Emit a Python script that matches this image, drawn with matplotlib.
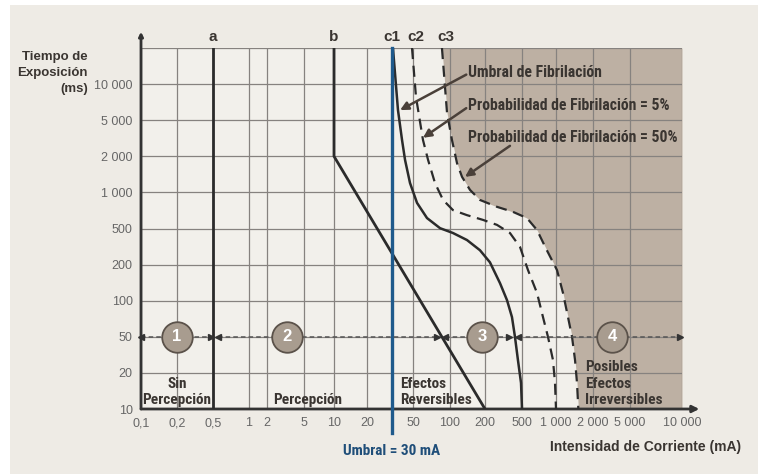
import numpy as np
import matplotlib.pyplot as plt
from matplotlib.patches import Rectangle

# axis ticks
x_ticks = [0.1, 0.2, 0.5, 1, 2, 5, 10, 20, 50, 100, 200, 500, 1000, 2000, 5000, 10000]
x_labels = ['0,1', '0,2', '0,5', '1', '2', '5', '10', '20', '50', '100', '200', '500',
            '1 000', '2 000', '5 000', '10 000']
y_ticks = [10, 20, 50, 100, 200, 500, 1000, 2000, 5000, 10000, 20000]
y_labels = ['10', '20', '50', '100', '200', '500', '1 000', '2 000', '5 000', '10 000', '']

# the chart is drawn on an irregular grid, not a true log scale
x_knots = [0.1, 0.2, 0.5, 1, 2, 5, 10, 20, 30, 50, 100, 200, 500, 1000, 2000, 5000, 10000]
x_knot_pos = [0, 36, 72, 108, 126, 163, 193, 226, 251, 272, 309, 344, 381, 415, 452, 489, 541]

# curves: current (mA) / time (ms)
a_i = [0.5, 0.5]
a_t = [10, 20000]
b_i = [10, 10, 200]
b_t = [20000, 2000, 10]
c1_i = [30.7, 34.7, 38.3, 41.2, 46.5, 53.9, 65.0, 83.0, 106, 140, 181, 226, 290, 345,
        390, 420, 452, 488, 500]
c1_t = [20000, 6070, 3020, 1866, 1197, 818, 611, 503, 446, 373, 288, 212, 140, 101,
        73, 50, 27.8, 16.5, 10]
c2_i = [48.8, 52.9, 60.3, 66.3, 75.5, 87.8, 106, 140, 192, 269, 371, 476, 565, 679,
        767, 849, 940, 980, 1000]
c2_t = [20000, 7790, 3020, 1866, 1197, 865, 712, 646, 590, 536, 446, 313, 180, 116,
        73, 50, 27.8, 16.5, 10]
c3_i = [86, 94.6, 104, 114.9, 126.9, 148.6, 181, 269, 400, 553, 679, 816, 1019, 1140,
        1252, 1350, 1428, 1482, 1520]
c3_t = [20000, 5743, 3020, 1753, 1347, 1049, 865, 758, 688, 611, 481, 300, 180, 116,
        73, 50, 27.8, 16.5, 10]
umbral = 30

# zones
zone_num = ['1', '2', '3', '4']
zone_center = [0.2, 3.3, 190, 3200]
zone_start = [0.1, 0.55, 91, 455]
zone_end = [0.47, 79, 365, 9700]
zone_time = 50

NARROW = ['Liberation Sans Narrow', 'Roboto Condensed', 'DejaVu Sans']
REG = ['Liberation Sans', 'DejaVu Sans']
DARK = '#3a3531'
BG = '#eeebe5'


def x_fwd(x):
    x = np.clip(np.asarray(x, dtype=float), 1e-9, None)
    return np.interp(np.log10(x), np.log10(x_knots), x_knot_pos)


def x_inv(p):
    return 10 ** np.interp(p, x_knot_pos, np.log10(x_knots))


def y_fwd(y):
    y = np.clip(np.asarray(y, dtype=float), 1e-9, None)
    return np.interp(np.log10(y), np.log10(y_ticks), np.arange(len(y_ticks)))


def y_inv(p):
    return 10 ** np.interp(p, np.arange(len(y_ticks)), np.log10(y_ticks))


def narrow_text(x, y, s, **kw):
    kw.setdefault('fontsize', 11)
    kw.setdefault('color', DARK)
    return ax.text(x, y, s, fontweight='bold', family=NARROW, fontstretch='condensed', **kw)


fig = plt.figure(figsize=(7.58, 4.74), dpi=100, facecolor='white')
fig.patches.append(Rectangle((10 / 758, 0), 1, 1 - 5 / 474, transform=fig.transFigure,
                             facecolor=BG, edgecolor='none', zorder=-10))

ax = fig.add_axes([141 / 758, 65 / 474, 541 / 758, 361 / 474])
ax.set_facecolor('#f2f0eb')
ax.set_xscale('function', functions=(x_fwd, x_inv))
ax.set_yscale('function', functions=(y_fwd, y_inv))
ax.set_xlim(0.1, 10000)
ax.set_ylim(10, 20000)

ax.set_xticks(x_ticks)
ax.set_xticklabels(x_labels)
ax.set_yticks(y_ticks)
ax.set_yticklabels(y_labels)
ax.minorticks_off()
ax.tick_params(length=0, labelsize=9, labelcolor='#666666', pad=6)
for lab in ax.get_xticklabels() + ax.get_yticklabels():
    lab.set_family(REG)
ax.set_axisbelow(True)
ax.grid(True, color='#86827f', lw=0.9)
for s in ax.spines.values():
    s.set_visible(False)

# shaded zone 4
ax.fill_betweenx(c3_t, c3_i, 10000, color='#bdb0a3', zorder=0.2, lw=0)

# axes with arrows
ax.annotate('', xy=(0, 1.045), xytext=(0, 0), xycoords='axes fraction',
            arrowprops=dict(arrowstyle='-|>', color='#333333', lw=2, mutation_scale=6,
                            shrinkA=0, shrinkB=0))
ax.annotate('', xy=(1.032, 0), xytext=(0, 0), xycoords='axes fraction',
            arrowprops=dict(arrowstyle='-|>', color='#333333', lw=2, mutation_scale=10,
                            shrinkA=0, shrinkB=0))

# curves
ax.plot(a_i, a_t, color='#2b2b2b', lw=2, zorder=3)
ax.plot(b_i, b_t, color='#2b2b2b', lw=2, zorder=3)
ax.plot(c1_i, c1_t, color='#2b2b2b', lw=1.8, zorder=3)
ax.plot(c2_i, c2_t, color='#2b2b2b', lw=1.6, dashes=(5, 3), zorder=3)
ax.plot(c3_i, c3_t, color='#2b2b2b', lw=1.6, dashes=(5, 3), zorder=3)

# 30 mA threshold
xt = ax.get_xaxis_transform()
ax.plot([umbral, umbral], [-0.067, 1.0], transform=xt, color='#1f5a8c', lw=2.4,
        zorder=4, clip_on=False)
narrow_text(umbral, -0.115, 'Umbral = 30 mA', transform=xt, ha='center', va='center',
            color='#1f4e79')

# curve letters
for lab, xv in zip(['a', 'b', 'c1', 'c2', 'c3'], [0.5, 10, 30, 53, 92]):
    ax.text(xv, 1.03, lab, transform=xt, ha='center', va='center', fontsize=11,
            fontweight='bold', color=DARK, family=REG)

# zone arrows and circles
for num, xc, x0, x1 in zip(zone_num, zone_center, zone_start, zone_end):
    ax.plot([x0, x1], [zone_time, zone_time], color='#555555', lw=1.1, dashes=(3, 2), zorder=4)
    ax.plot([x0], [zone_time], marker='<', ms=4, color='#333333', zorder=4, clip_on=False)
    ax.plot([x1], [zone_time], marker='>', ms=4, color='#333333', zorder=4, clip_on=False)
    ax.plot([xc], [zone_time], marker='o', ms=22, mfc='#a89c8f', mec='#5b524a', mew=1.3,
            zorder=5)
    ax.text(xc, zone_time, num, ha='center', va='center', fontsize=12, fontweight='bold',
            color='white', zorder=6, family=REG)

# zone texts
narrow_text(0.2, 0.006, 'Sin\nPercepción', transform=xt, ha='center', va='bottom',
            linespacing=1.2)
narrow_text(5.4, 0.006, 'Percepción', transform=xt, ha='center', va='bottom')
narrow_text(37, 0.006, 'Efectos\nReversibles', transform=xt, ha='left', va='bottom',
            linespacing=1.2)
narrow_text(1720, 0.006, 'Posibles\nEfectos\nIrreversibles', transform=xt, ha='left',
            va='bottom', linespacing=1.2)

# fibrillation annotations
notes = ['Umbral de Fibrilación', 'Probabilidad de Fibrilación = 5%',
         'Probabilidad de Fibrilación = 50%']
note_t = [12600, 6690, 3200]
heads = [(36.5, 6070), (60.3, 3200), (134.6, 1347)]
tails = [(138, 12000), (138, 6300), (371, 2608)]
for txt, ty in zip(notes, note_t):
    narrow_text(143, ty, txt, ha='left', va='center', zorder=6, fontsize=11.3)
for h, t in zip(heads, tails):
    ax.annotate('', xy=h, xytext=t,
                arrowprops=dict(arrowstyle='-|>', color='#4a4039', lw=1.8,
                                mutation_scale=12, shrinkA=0, shrinkB=0), zorder=6)

# axis titles
fig.text(88 / 758, 1 - 73 / 474, 'Tiempo de\nExposición\n(ms)', ha='right', va='center',
         fontsize=9.5, fontweight='bold', color=DARK, family=REG, linespacing=1.4)
fig.text(741 / 758, 1 - 447 / 474, 'Intensidad de Corriente (mA)', ha='right',
         va='center', fontsize=10, fontweight='bold', color=DARK, family=REG)

fig.savefig('out.png', dpi=100, facecolor=fig.get_facecolor())
